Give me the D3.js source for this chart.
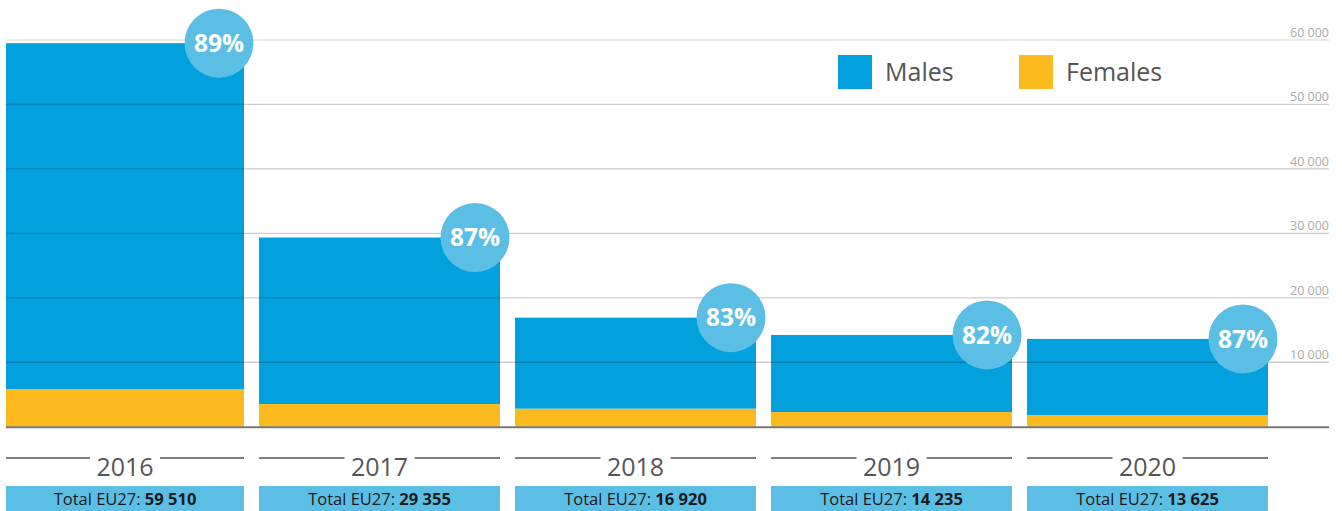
<!DOCTYPE html>
<html><head><meta charset="utf-8">
<script src="https://cdn.jsdelivr.net/npm/d3@7"></script>
<style>html,body{margin:0;padding:0;background:#fff;}svg{display:block;font-family:"Open Sans",sans-serif;}</style>
</head><body>
<svg id="c" width="1342" height="511"></svg>
<script>
const years = ["2016","2017","2018","2019","2020"];
const totals = [59510, 29355, 16920, 14235, 13625];
const females = [5850, 3520, 2800, 2280, 1820];
const males = totals.map((t,i)=>t-females[i]);
const maleShare = ["89%","87%","83%","82%","87%"];
const yTicks = [10000,20000,30000,40000,50000,60000];
const seriesNames = ["Males","Females"];
const colors = {Males:"#03A0DE", Females:"#FBBA1E"};

const svg = d3.select("#c");
const x = d3.scaleBand().domain(years).range([3,1268]).paddingInner(0.0586).paddingOuter(0);
const y = d3.scaleLinear().domain([0,60000]).range([426.7,40]);
const fmt = v => d3.format(",")(v).replace(/,/g," ");

const data = years.map((yr,i)=>({year:yr, Males:males[i], Females:females[i]}));
const stack = d3.stack().keys(["Females","Males"])(data);

svg.append("g").selectAll("g").data(stack).join("g")
  .attr("fill", d=>colors[d.key])
  .selectAll("rect").data(d=>d).join("rect")
  .attr("x", d=>Math.max(6,x(d.data.year)))
  .attr("width", d=>x(d.data.year)+x.bandwidth()-Math.max(6,x(d.data.year)))
  .attr("y", d=>y(d[1])).attr("height", d=>y(d[0])-y(d[1]));

// gridlines on top
const g = svg.append("g");
g.selectAll("line").data(yTicks).join("line")
  .attr("x1",6).attr("x2",1329)
  .attr("y1",d=>y(d)).attr("y2",d=>y(d))
  .attr("stroke","#000").attr("stroke-opacity",d=>d===60000?0.11:0.2).attr("stroke-width",1.3);
g.selectAll("text").data(yTicks).join("text")
  .attr("x",1329).attr("y",d=>y(d)-3)
  .attr("text-anchor","end").attr("font-size",12.5).attr("fill","#aaa")
  .text(fmt);
svg.append("line").attr("x1",6).attr("x2",1329).attr("y1",y(0)+0.5).attr("y2",y(0)+0.5)
  .attr("stroke","#777").attr("stroke-width",2);

// share circles
const circ = svg.append("g").selectAll("g").data(years).join("g")
  .attr("transform",(d,i)=>`translate(${x(d)+x.bandwidth()-25},${y(totals[i])})`);
circ.append("circle").attr("r",34.5).attr("fill","#5BBFE5");
circ.append("text").attr("text-anchor","middle").attr("dy","0.36em")
  .attr("font-size",24.5).attr("font-weight","bold").attr("fill","#fff")
  .text((d,i)=>maleShare[i]);

// legend
const lg = svg.append("g").selectAll("g").data(seriesNames).join("g")
  .attr("transform",(d,i)=>`translate(${838+i*181},55)`);
lg.append("rect").attr("width",34).attr("height",34).attr("fill",d=>colors[d]);
lg.append("text").attr("x",47).attr("y",26).attr("font-size",25).attr("fill","#555").text(d=>d);

// year labels with lines
const yl = svg.append("g").selectAll("g").data(years).join("g");
const cx = d => (Math.max(6,x(d)) + x(d)+x.bandwidth())/2;
yl.append("text").attr("x",cx).attr("y",476)
  .attr("text-anchor","middle").attr("font-size",25).attr("fill","#555").text(d=>d);
yl.append("line").attr("x1",d=>Math.max(6,x(d))).attr("x2",d=>cx(d)-35)
  .attr("y1",458).attr("y2",458).attr("stroke","#555").attr("stroke-width",1.5);
yl.append("line").attr("x1",d=>cx(d)+35).attr("x2",d=>x(d)+x.bandwidth())
  .attr("y1",458).attr("y2",458).attr("stroke","#555").attr("stroke-width",1.5);

// total boxes
const tb = svg.append("g").selectAll("g").data(years).join("g");
tb.append("rect").attr("x",d=>Math.max(6,x(d))).attr("width",d=>x(d)+x.bandwidth()-Math.max(6,x(d)))
  .attr("y",486).attr("height",25).attr("fill","#5BBFE5");
const tt = tb.append("text").attr("x",cx).attr("y",504.5)
  .attr("text-anchor","middle").attr("font-size",16.5).attr("fill","#1a1a1a");
tt.append("tspan").text("Total EU27: ");
tt.append("tspan").attr("font-weight","bold").text((d,i)=>fmt(totals[i]));
</script>
</body></html>
